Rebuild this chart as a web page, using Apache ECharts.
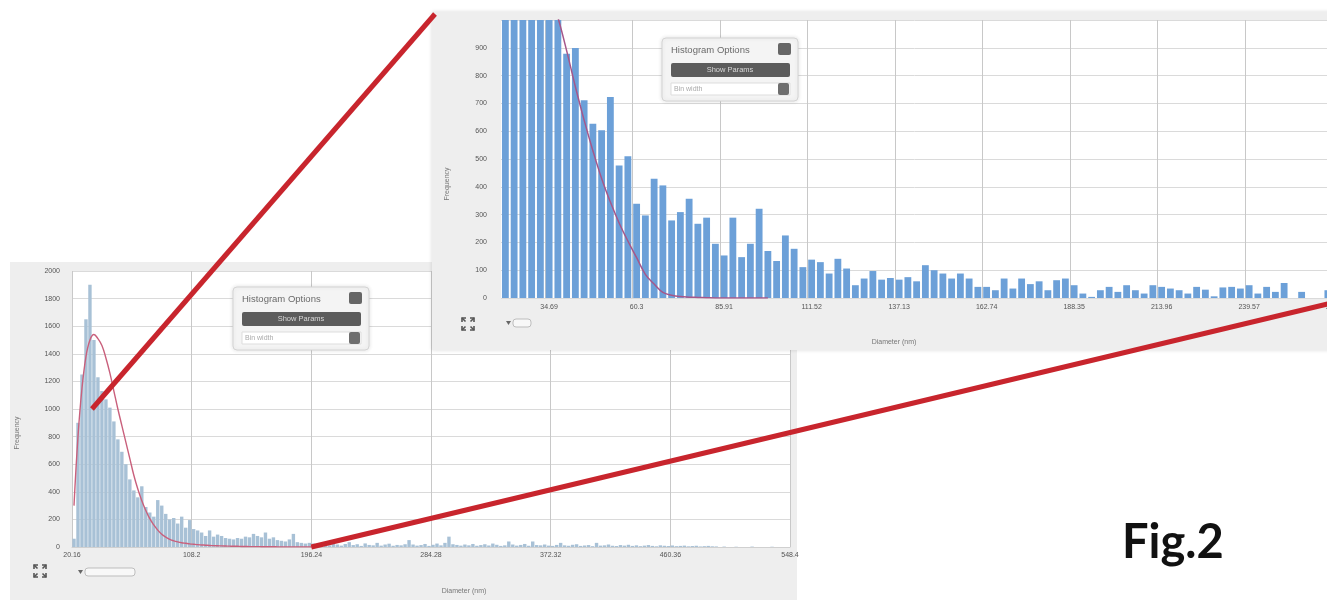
<!DOCTYPE html>
<html>
<head>
<meta charset="utf-8">
<title>Fig.2 — particle diameter histograms</title>
<script src="https://cdn.jsdelivr.net/npm/echarts@6/dist/echarts.min.js"></script>
<style>
  html, body { margin: 0; padding: 0; background: #ffffff; }
  #chart { width: 1327px; height: 600px; }
</style>
</head>
<body>
<div id="chart"></div>
<script>
// Full-range histogram: tick labels (nm) at every 30th bin edge
const lowerTicks = ['20.16', '108.2', '196.24', '284.28', '372.32', '460.36', '548.4'];

// Full-range histogram: counts per bin (180 bins)
const lowerCounts = [
  60, 900, 1250, 1650, 1900, 1500, 1230, 1130, 1070, 1010,
  910, 780, 690, 600, 490, 410, 360, 440, 290, 250,
  220, 340, 300, 240, 200, 210, 170, 220, 140, 195,
  130, 120, 105, 80, 120, 75, 90, 80, 65, 60,
  55, 65, 60, 75, 70, 95, 80, 70, 105, 60,
  70, 50, 45, 40, 55, 95, 35, 30, 25, 30,
  25, 20, 15, 30, 12, 25, 18, 10, 22, 35,
  14, 20, 8, 26, 15, 12, 30, 10, 18, 24,
  9, 15, 12, 20, 50, 18, 10, 14, 22, 8,
  16, 25, 12, 30, 75, 20, 15, 10, 18, 12,
  22, 9, 14, 20, 11, 25, 16, 8, 12, 40,
  18, 10, 15, 22, 9, 40, 14, 12, 18, 10,
  8, 15, 30, 12, 9, 16, 20, 8, 11, 14,
  6, 30, 10, 12, 18, 9, 7, 14, 10, 16,
  8, 12, 6, 10, 14, 8, 5, 12, 9, 7,
  11, 6, 8, 10, 5, 7, 9, 4, 6, 8,
  5, 4, 0, 3, 0, 0, 2, 0, 0, 0,
  3, 0, 0, 0, 0, 2, 0, 0, 0, 0
];

// Full-range histogram: fitted distribution at bin centres
const lowerFit = [
  300, 800, 1150, 1380, 1500, 1540, 1510, 1460, 1370, 1260,
  1130, 1000, 880, 760, 640, 520, 420, 335, 265, 205,
  160, 122, 92, 72, 56, 45, 37, 31, 27, 23,
  20, 17, 15, 13, 11, 10, 9, 8, 7, 6,
  5, 5, 4, 4, 3, 3, 3, 2, 2, 2,
  2, 1, 1, 1, 1, 1, 1, 1, 1, 1, 0
];

// Zoomed histogram: tick labels (nm) at every 10th bin, starting with bin 5
const upperTicks = ['34.69', '60.3', '85.91', '111.52', '137.13', '162.74', '188.35', '213.96', '239.57', '265.18'];

// Zoomed histogram: counts per bin (96 bins)
const upperCounts = [
  1400, 1550, 1450, 1350, 1250, 1150, 1050, 879, 899, 711,
  627, 603, 723, 477, 510, 339, 297, 429, 405, 279,
  309, 357, 267, 289, 195, 153, 289, 147, 195, 321,
  169, 133, 225, 177, 111, 138, 129, 88, 141, 106,
  46, 70, 97, 66, 72, 66, 75, 60, 118, 100,
  88, 70, 88, 70, 40, 40, 28, 70, 34, 70,
  50, 60, 28, 64, 70, 46, 16, 4, 28, 40,
  22, 46, 28, 16, 46, 40, 34, 28, 16, 40,
  30, 6, 38, 40, 34, 46, 16, 40, 22, 54,
  0, 22, 0, 0, 28, 30
];

// Zoomed histogram: fitted distribution at bin centres
const upperFit = [
  1500, 1440, 1370, 1290, 1200, 1110, 1010, 890, 760, 640,
  530, 430, 345, 270, 205, 145, 85, 50, 20, 10,
  5, 3, 2, 1, 0, 0, 0, 0, 0, 0, 0
];

const LABEL_FONT = 'Liberation Sans';
const GRID_V = '#c8c8c8';
const GRID_H = '#dadada';

// Small "Histogram Options" control panel drawn inside a plot
function optionsBox(id, x, y, z) {
  const c = (el) => Object.assign(el, { z: z });
  return {
    type: 'group', id: id, x: x, y: y,
    children: [
      c({ type: 'rect', shape: { x: 0, y: 0, width: 136, height: 63, r: 4 },
          style: { fill: '#f4f4f4', stroke: '#d4d4d4', lineWidth: 1,
                   shadowBlur: 4, shadowColor: 'rgba(0,0,0,0.12)' } }),
      c({ type: 'text', x: 9, y: 12,
          style: { text: 'Histogram Options', fontSize: 9.5, fontFamily: LABEL_FONT,
                   fill: '#6a6a6a', verticalAlign: 'middle' } }),
      c({ type: 'rect', shape: { x: 116, y: 5, width: 13, height: 12, r: 2 },
          style: { fill: '#666666' } }),
      c({ type: 'rect', shape: { x: 9, y: 25, width: 119, height: 14, r: 2 },
          style: { fill: '#5c5c5c' } }),
      c({ type: 'text', x: 68, y: 32,
          style: { text: 'Show Params', fontSize: 7.5, fontFamily: LABEL_FONT,
                   fill: '#d8d8d8', align: 'center', verticalAlign: 'middle' } }),
      c({ type: 'rect', shape: { x: 9, y: 45, width: 119, height: 12 },
          style: { fill: '#ffffff', stroke: '#dddddd', lineWidth: 1 } }),
      c({ type: 'text', x: 12, y: 51,
          style: { text: 'Bin width', fontSize: 7, fontFamily: LABEL_FONT,
                   fill: '#aaaaaa', verticalAlign: 'middle' } }),
      c({ type: 'rect', shape: { x: 116, y: 45, width: 11, height: 12, r: 2 },
          style: { fill: '#6e6e6e' } })
    ]
  };
}

// Full-screen toggle glyph (four corner arrows)
function fullscreenIcon(id, cx, cy, z) {
  const s = { stroke: '#555555', lineWidth: 1.6, fill: null };
  const corner = (dx, dy) => ([
    { type: 'polyline', z: z, style: s,
      shape: { points: [[cx + dx * 6, cy + dy * 2], [cx + dx * 6, cy + dy * 6], [cx + dx * 2, cy + dy * 6]] } },
    { type: 'line', z: z, style: s,
      shape: { x1: cx + dx * 6, y1: cy + dy * 6, x2: cx + dx * 2.5, y2: cy + dy * 2.5 } }
  ]);
  return {
    type: 'group', id: id,
    children: [].concat(corner(-1, -1), corner(1, -1), corner(-1, 1), corner(1, 1))
  };
}

// Range navigator stub under the x axis
function navigator(id, x, y, w, z) {
  return {
    type: 'group', id: id,
    children: [
      { type: 'polygon', z: z, shape: { points: [[x, y - 2], [x + 5, y - 2], [x + 2.5, y + 2]] },
        style: { fill: '#666666' } },
      { type: 'rect', z: z, shape: { x: x + 7, y: y - 4, width: w, height: 8, r: 3 },
        style: { fill: '#f8f8f8', stroke: '#bdbdbd', lineWidth: 1 } }
    ]
  };
}

function axisTitle(id, text, x, y, vertical, z) {
  return {
    type: 'text', id: id, x: x, y: y, z: z, rotation: vertical ? Math.PI / 2 : 0,
    style: { text: text, fontSize: 7, fontFamily: LABEL_FONT, fill: '#777777',
             align: 'center', verticalAlign: 'middle' }
  };
}

const chart = echarts.init(document.getElementById('chart'), null, { renderer: 'canvas' });

const option = {
  animation: false,
  backgroundColor: '#ffffff',
  grid: [
    { left: 72, top: 271, width: 718, height: 276, show: true, containLabel: false,
      outerBoundsMode: 'none', backgroundColor: '#ffffff', borderWidth: 0, z: 1 },
    { left: 501, top: 20, width: 840, height: 278, show: true, containLabel: false,
      outerBoundsMode: 'none', backgroundColor: '#ffffff', borderWidth: 0, z: 11 }
  ],
  xAxis: [
    {
      gridIndex: 0, type: 'value', min: 0, max: 180, interval: 30, z: 2,
      axisLine: { show: true, lineStyle: { color: '#d0d0d0' } },
      axisTick: { show: false },
      axisLabel: {
        formatter: (v) => lowerTicks[Math.round(v / 30)],
        fontSize: 7, fontFamily: LABEL_FONT, color: '#555555', margin: 5
      },
      splitLine: { show: true, lineStyle: { color: GRID_V, width: 1 } }
    },
    {
      gridIndex: 1, type: 'category', z: 12,
      data: upperCounts.map((_, i) => String(i)),
      axisLine: { show: false },
      axisTick: { show: false },
      axisLabel: {
        interval: (i) => i % 10 === 5,
        formatter: (v, i) => upperTicks[(i - 5) / 10],
        fontSize: 7, fontFamily: LABEL_FONT, color: '#555555', margin: 6
      },
      splitLine: { show: true, interval: (i) => i % 10 === 5,
                   lineStyle: { color: GRID_V, width: 1 } }
    }
  ],
  yAxis: [
    {
      gridIndex: 0, type: 'value', min: 0, max: 2000, interval: 200, z: 2,
      axisLine: { show: false }, axisTick: { show: false },
      axisLabel: { formatter: (v) => String(v), fontSize: 7, fontFamily: LABEL_FONT,
                   color: '#555555', margin: 12 },
      splitLine: { lineStyle: { color: GRID_H, width: 1 } }
    },
    {
      gridIndex: 1, type: 'value', min: 0, max: 1000, interval: 100, z: 12,
      axisLine: { show: false }, axisTick: { show: false },
      axisLabel: { formatter: (v) => String(v), fontSize: 7, fontFamily: LABEL_FONT,
                   color: '#555555', margin: 14, showMaxLabel: false },
      splitLine: { lineStyle: { color: GRID_H, width: 1 } }
    }
  ],
  series: [
    {
      name: 'Frequency', type: 'bar', xAxisIndex: 0, yAxisIndex: 0, z: 3, silent: true,
      data: lowerCounts.map((v, i) => [i + 0.5, v]),
      barWidth: 3.4,
      itemStyle: { color: '#a8c1d6' }
    },
    {
      name: 'Fit', type: 'line', xAxisIndex: 0, yAxisIndex: 0, z: 4, silent: true,
      data: lowerFit.map((v, i) => [i + 0.5, v]),
      smooth: 0.4, showSymbol: false,
      lineStyle: { color: '#c9607c', width: 1.4 }
    },
    {
      name: 'Frequency (zoom)', type: 'bar', xAxisIndex: 1, yAxisIndex: 1, z: 13, silent: true,
      data: upperCounts,
      barCategoryGap: '22%',
      itemStyle: { color: '#6ca0d8' }
    },
    {
      name: 'Fit (zoom)', type: 'line', xAxisIndex: 1, yAxisIndex: 1, z: 14, silent: true,
      data: upperFit,
      smooth: 0.4, showSymbol: false,
      lineStyle: { color: '#a5578a', width: 1.5 }
    }
  ],
  graphic: {
    elements: [
      // full-range panel
      { type: 'rect', id: 'lowerPanel', z: 0, shape: { x: 10, y: 262, width: 787, height: 338 },
        style: { fill: '#eeeeee' } },
      optionsBox('lowerOptions', 233, 287, 5),
      fullscreenIcon('lowerFull', 40, 571, 5),
      navigator('lowerNav', 78, 572, 50, 5),
      axisTitle('lowerYTitle', 'Frequency', 17, 433, true, 5),
      axisTitle('lowerXTitle', 'Diameter (nm)', 464, 591, false, 5),

      // zoomed panel
      { type: 'rect', id: 'upperPanel', z: 10, shape: { x: 432, y: 12, width: 900, height: 338 },
        style: { fill: '#eeeeee', shadowBlur: 4, shadowColor: 'rgba(0,0,0,0.15)' } },
      optionsBox('upperOptions', 662, 38, 15),
      fullscreenIcon('upperFull', 468, 324, 15),
      navigator('upperNav', 506, 323, 18, 15),
      axisTitle('upperYTitle', 'Frequency', 447, 184, true, 15),
      axisTitle('upperXTitle', 'Diameter (nm)', 894, 342, false, 15),

      // figure caption
      { type: 'text', id: 'figCaption', z: 20, x: 1122, y: 543,
        style: { text: 'Fig.2', fontSize: 47, fontWeight: 'bold', fontFamily: 'Lato',
                 fill: '#111111', verticalAlign: 'middle' } }
    ]
  }
};

chart.setOption(option);

// Leader lines from the full-range plot to the corners of the zoomed panel
const zoomTop = chart.convertToPixel({ xAxisIndex: 0, yAxisIndex: 0 }, [5, 1000]);
const zoomEnd = chart.convertToPixel({ xAxisIndex: 0, yAxisIndex: 0 }, [60, 0]);
const leader = { stroke: '#c8252d', lineWidth: 5 };
chart.setOption({
  graphic: {
    elements: [
      { type: 'line', id: 'leaderTop', z: 19,
        shape: { x1: 435, y1: 14, x2: zoomTop[0], y2: zoomTop[1] }, style: leader },
      { type: 'line', id: 'leaderBottom', z: 19,
        shape: { x1: zoomEnd[0], y1: zoomEnd[1], x2: 1332, y2: 303 }, style: leader }
    ]
  }
});
</script>
</body>
</html>
